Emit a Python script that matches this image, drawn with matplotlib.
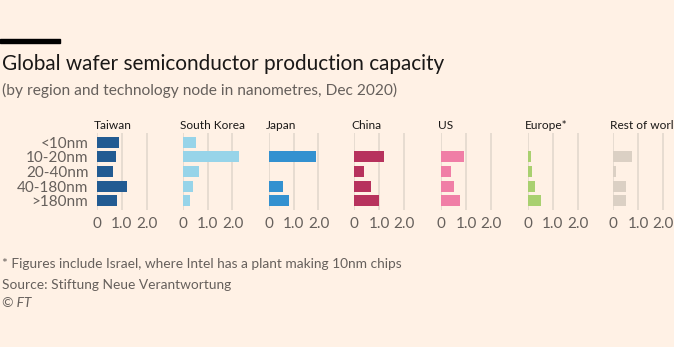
import numpy as np
import matplotlib
matplotlib.use("Agg")
import matplotlib.pyplot as plt

# data
nodes = ["<10nm", "10-20nm", "20-40nm", "40-180nm", ">180nm"]
regions = ["Taiwan", "South Korea", "Japan", "China", "US", "Europe*", "Rest of world"]
taiwan = [0.90, 0.78, 0.67, 1.23, 0.80]
south_korea = [0.55, 2.32, 0.64, 0.41, 0.31]
japan = [0.0, 1.89, 0.0, 0.59, 0.82]
china = [0.0, 1.21, 0.39, 0.68, 1.01]
us = [0.0, 0.93, 0.37, 0.52, 0.75]
europe = [0.0, 0.12, 0.15, 0.27, 0.54]
rest_of_world = [0.0, 0.75, 0.11, 0.53, 0.52]
values = [taiwan, south_korea, japan, china, us, europe, rest_of_world]
colors = ["#225b92", "#97d4e9", "#3391d0", "#b7325d", "#f07ea6", "#a9d070", "#dbd0c4"]
xticks = [0, 1, 2]
xticklabels = ["0", "1.0", "2.0"]

bg = "#fff1e5"
grid = "#e3d8cd"
grey = "#66605c"
plt.rcParams["font.family"] = ["Lato", "DejaVu Sans"]

W, H = 674, 347
fig = plt.figure(figsize=(W / 100, H / 100), dpi=100, facecolor=bg)

# header
fig.patches.append(plt.Rectangle((0, 1 - 43 / H), 60 / W, 4 / H,
                                 transform=fig.transFigure, color="black"))
fig.text(2 / W, 1 - 64 / H, "Global wafer semiconductor production capacity",
         fontsize=14.95, color="#1a1817", va="center")
fig.text(2 / W, 1 - 90 / H, "(by region and technology node in nanometres, Dec 2020)",
         fontsize=11.2, color=grey, va="center")

# panels
x0s = [96.7, 182.7, 268.7, 354.3, 441.3, 528.0, 613.3]
px_per_unit = 24.9
xmax = 2.25
y_top, y_bot = 133.3, 210.0
pos = np.arange(len(nodes))
for i, (region, vals, col) in enumerate(zip(regions, values, colors)):
    ax = fig.add_axes([x0s[i] / W, 1 - y_bot / H, xmax * px_per_unit / W, (y_bot - y_top) / H])
    ax.set_facecolor("none")
    ax.barh(pos, vals, height=0.75, color=col, zorder=3)
    ax.set_xlim(0, xmax)
    ax.set_ylim(4.63, -0.62)
    ax.set_xticks(xticks)
    ax.set_xticklabels(xticklabels, fontsize=11, color=grey)
    ax.grid(axis="x", color=grid, lw=1.2, zorder=0)
    ax.tick_params(axis="x", length=0, pad=5)
    ax.tick_params(axis="y", length=0)
    for s in ax.spines.values():
        s.set_visible(False)
    if i == 0:
        ax.set_yticks(pos)
        ax.set_yticklabels(nodes, fontsize=11, color=grey)
        ax.tick_params(axis="y", pad=6)
    else:
        ax.set_yticks([])
    ax.text(-0.12, -0.75, region, fontsize=8.6, color="#1a1817", va="bottom", ha="left",
            transform=ax.transData, clip_on=False)

# footer
fig.text(2 / W, 1 - 264 / H, "* Figures include Israel, where Intel has a plant making 10nm chips",
         fontsize=9.95, color=grey, va="center")
fig.text(2 / W, 1 - 285 / H, "Source: Stiftung Neue Verantwortung",
         fontsize=9.95, color=grey, va="center")
fig.text(2 / W, 1 - 303 / H, "\u00a9 FT", fontsize=9.95, color=grey, va="center",
         style="italic")

fig.savefig("out.png", dpi=100, facecolor=bg)
